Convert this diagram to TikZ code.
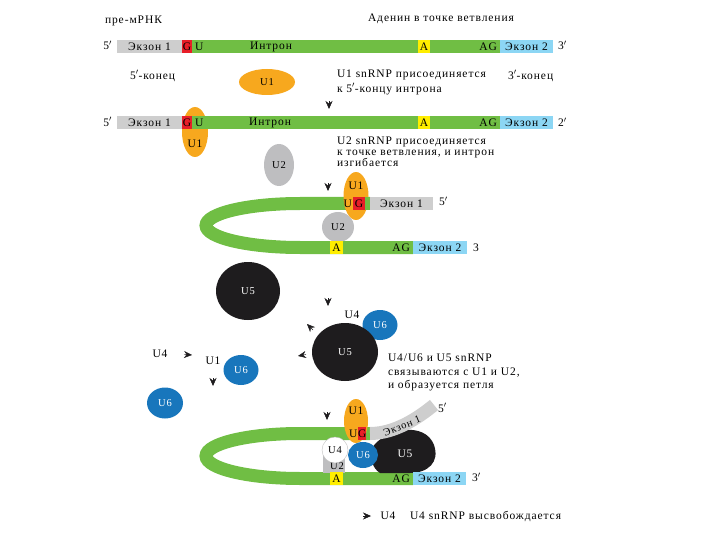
\documentclass[tikz,border=0pt]{standalone}
\usepackage{fontspec}
\setmainfont{Liberation Serif}[LetterSpace=8]
\usetikzlibrary{shapes.geometric,arrows.meta,positioning}
\definecolor{exgray}{RGB}{206,206,206}
\definecolor{ingreen}{RGB}{112,190,68}
\definecolor{gred}{RGB}{232,30,40}
\definecolor{ayellow}{RGB}{255,238,0}
\definecolor{exblue}{RGB}{140,214,244}
\definecolor{uorange}{RGB}{247,168,30}
\definecolor{ugray}{RGB}{190,190,192}
\definecolor{ublue}{RGB}{24,118,188}
\definecolor{ublack}{RGB}{30,28,30}
\begin{document}
\begin{tikzpicture}[x=1pt,y=-1pt,
    txt/.style={inner sep=0pt,outer sep=0pt,font=\fontsize{11.5}{13}\selectfont},
    box/.style={txt,anchor=west,minimum height=13pt},
    exa/.style={box,fill=exgray},
    gnt/.style={box,fill=gred,minimum width=10pt},
    intr/.style={box,fill=ingreen},
    adn/.style={box,fill=ayellow,minimum width=12pt},
    exb/.style={box,fill=exblue},
    arm/.style={ingreen,line width=13pt},
    snrp/.style={ellipse,inner sep=0pt,outer sep=0pt,font=\fontsize{10.5}{12}\selectfont},
    uone/.style={snrp,fill=uorange},
    utwo/.style={snrp,fill=ugray},
    ufive/.style={snrp,fill=ublack,text=white},
    usix/.style={snrp,fill=ublue,text=white},
    tip/.style={-{Stealth[length=8pt,width=7pt]},ublack}]

    \useasboundingbox (0,0) rectangle (720,540);

    % titles
    \node[txt,anchor=west] (pre) at (105,21) {пре-мРНК};
    \node[txt,anchor=west] (aden) at (368,19) {Аденин в точке ветвления};

    % row 1
    \node[exa,minimum width=65pt] (r1e1) at (117,46.5) {Экзон 1};
    \node[gnt] (r1g) at (r1e1.east) {G};
    \node[intr,minimum width=226pt] (r1i) at (r1g.east) {};
    \node[adn] (r1a) at (r1i.east) {A};
    \node[intr,minimum width=70pt] (r1j) at (r1a.east) {};
    \node[exb,minimum width=53pt] (r1e2) at (r1j.east) {Экзон 2};
    \node[txt,anchor=west] (r1u) at ([xshift=3pt]r1g.east) {U};
    \node[txt] (r1it) at (271,46.5) {Интрон};
    \node[txt,anchor=east] (r1ag) at ([xshift=-3pt]r1j.east) {AG};
    \node[txt,anchor=east] (r1p5) at ([xshift=-5pt,yshift=1pt]r1e1.west) {5$'$};
    \node[txt,anchor=west] (r1p3) at ([xshift=5pt,yshift=1pt]r1e2.east) {3$'$};

    \node[txt,anchor=west] (k5) at (130,76) {5$'$-конец};
    \node[uone,minimum width=56pt,minimum height=26pt] (u1a) at (267,82) {U1};
    \node[txt,anchor=west] (t1) at (337,75) {U1 snRNP присоединяется};
    \node[txt,anchor=west] (t1b) at (337,89) {к 5$'$-концу интрона};
    \node[txt,anchor=west] (k3) at (508,76) {3$'$-конец};
    \coordinate (ar1) at (329,101);
    \draw[tip] (ar1) -- ++(0,8);

    % row 2
    \node[exa,minimum width=65pt] (r2e1) at (117,123) {Экзон 1};
    \node[uone,minimum width=26pt,minimum height=50pt] (r2u1) at (195,132) {};
    \node[txt] (r2u1t) at ([yshift=-12pt]r2u1.center) {U1};
    \node[gnt] (r2g) at (r2e1.east) {G};
    \node[intr,minimum width=226pt] (r2i) at (r2g.east) {};
    \node[adn] (r2a) at (r2i.east) {A};
    \node[intr,minimum width=70pt] (r2j) at (r2a.east) {};
    \node[exb,minimum width=53pt] (r2e2) at (r2j.east) {Экзон 2};
    \node[txt,anchor=west] (r2u) at ([xshift=3pt]r2g.east) {U};
    \node[txt] (r2it) at (270,123) {Интрон};
    \node[txt,anchor=east] (r2ag) at ([xshift=-3pt]r2j.east) {AG};
    \node[txt,anchor=east] (r2p5) at ([xshift=-5pt,yshift=1pt]r2e1.west) {5$'$};
    \node[txt,anchor=west] (r2p3) at ([xshift=5pt,yshift=1pt]r2e2.east) {2$'$};

    \node[utwo,minimum width=30pt,minimum height=42pt] (u2a) at (279,165) {U2};
    \node[txt,anchor=north west,align=left,font=\fontsize{11.5}{11}\selectfont] (t2) at (337,137) {U2 snRNP присоединяется\\к точке ветвления, и интрон\\изгибается};
    \coordinate (ar2) at (328,183);
    \draw[tip] (ar2) -- ++(0,8);

    % first loop
    \coordinate (h1t) at (370,203.5);
    \coordinate (h1b) at (413,247.5);
    \draw[arm] (h1t) -- (300,203.5) arc[start angle=270,end angle=90,x radius=94,y radius=22] -- (h1b);
    \node[utwo,minimum width=32pt,minimum height=30pt] (h1u2) at (338,227) {U2};
    \node[uone,minimum width=25pt,minimum height=48pt] (h1u1) at (356,196) {};
    \node[txt] (h1u1t) at ([yshift=10pt]h1u1.center) {U1};
    \node[gnt,minimum width=12pt] (h1g) at (353,203.5) {G};
    \node[intr,minimum width=5pt] (h1s) at (h1g.east) {};
    \node[exa,minimum width=63pt] (h1e1) at (h1s.east) {Экзон 1};
    \node[txt,anchor=east] (h1u) at ([xshift=-1pt]h1g.west) {U};
    \node[txt,anchor=west] (h1p5) at ([xshift=6pt,yshift=2pt]h1e1.east) {5$'$};
    \node[adn,minimum width=13pt] (h1a) at (330,247.5) {A};
    \node[exb,minimum width=54pt] (h1e2) at (h1b) {Экзон 2};
    \node[txt,anchor=east] (h1ag) at ([xshift=-3pt]h1e2.west) {AG};
    \node[txt,anchor=west] (h1p3) at ([xshift=6pt]h1e2.east) {3};

    % U5, U4/U6
    \node[ufive,minimum width=64pt,minimum height=58pt] (u5a) at (248,291) {U5};
    \coordinate (ar3) at (328,298);
    \draw[tip] (ar3) -- ++(0,8);
    \node[txt] (u4a) at (352,315) {U4};
    \node[usix,minimum width=35pt,minimum height=30pt] (u6a) at (380,325) {U6};
    \coordinate (ar4) at (313,330);
    \draw[tip] (ar4) -- ++(-6,-6);
    \node[ufive,minimum width=66pt,minimum height=58pt] (u5b) at (345,352) {U5};
    \coordinate (ar5) at (306,354.5);
    \draw[tip] (ar5) -- ++(-8,1.5);
    \node[txt,anchor=north west,align=left,font=\fontsize{11.5}{13.5}\selectfont] (t3) at (388,354) {U4/U6 и U5 snRNP\\связываются с U1 и U2,\\и образуется петля};

    \node[txt] (u4b) at (160,354) {U4};
    \coordinate (ar6) at (184,354.5);
    \draw[tip] (ar6) -- ++(8,0.5);
    \node[txt] (u1b) at (213,361) {U1};
    \node[usix,minimum width=35pt,minimum height=30pt] (u6b) at (241,370) {U6};
    \coordinate (ar7) at (213,378);
    \draw[tip] (ar7) -- ++(0,8);
    \node[usix,minimum width=36pt,minimum height=31pt] (u6c) at (165,403) {U6};

    % second loop
    \coordinate (h2t) at (370,433.5);
    \coordinate (h2b) at (413,478.5);
    \coordinate (h2x) at (434,405);
    \draw[arm] (h2t) -- (300,433.5) arc[start angle=270,end angle=90,x radius=94,y radius=22.5] -- (h2b);
    \fill[ublack] (372,448) .. controls (385,428) and (425,421) .. (434,445) .. controls (440,462) and (428,473) .. (410,473) -- (380,473) .. controls (372,468) and (370,458) .. cycle;
    \draw[exgray,line width=13pt] (h2t) .. controls (395,433.5) and (418,418) .. (h2x);
    \node[txt,rotate=22,font=\fontsize{10.5}{12}\selectfont] (h2e1) at (402,426) {Экзон 1};
    \node[txt,text=white] (h2u5) at (405,454) {U5};
    \node[fill=ugray,inner sep=0pt,minimum width=22pt,minimum height=18pt] (h2u2) at (334,464) {};
    \node[txt,font=\fontsize{10.5}{12}\selectfont] (h2u2t) at (337,466) {U2};
    \node[circle,fill=white,draw=black!25,inner sep=0pt,minimum size=26pt,font=\fontsize{10.5}{12}\selectfont] (h2u4) at (335,450) {U4};
    \node[uone,minimum width=24pt,minimum height=44pt] (h2u1) at (356,421) {};
    \node[txt] (h2u1t) at ([yshift=10pt]h2u1.center) {U1};
    \node[usix,minimum width=30pt,minimum height=26pt] (h2u6) at (363,455) {U6};
    \node[gnt,minimum width=8pt] (h2g) at (358,433.5) {G};
    \node[txt,anchor=east] (h2u) at ([xshift=-0.5pt]h2g.west) {U};
    \node[txt,anchor=west] (h2p5) at (438,408) {5$'$};
    \node[adn,minimum width=13pt] (h2a) at (330,478.5) {A};
    \node[exb,minimum width=53pt] (h2e2) at (h2b) {Экзон 2};
    \node[txt,anchor=east] (h2ag) at ([xshift=-3pt]h2e2.west) {AG};
    \node[txt,anchor=west] (h2p3) at ([xshift=6pt,yshift=1pt]h2e2.east) {3$'$};
    \coordinate (ar8) at (327,412);
    \draw[tip] (ar8) -- ++(0,8);

    % U4 leaves
    \coordinate (ar9) at (363,516);
    \draw[tip] (ar9) -- ++(8,0);
    \node[txt] (u4c) at (388,516) {U4};
    \node[txt,anchor=west] (t4) at (410,516) {U4 snRNP высвобождается};
\end{tikzpicture}
\end{document}
